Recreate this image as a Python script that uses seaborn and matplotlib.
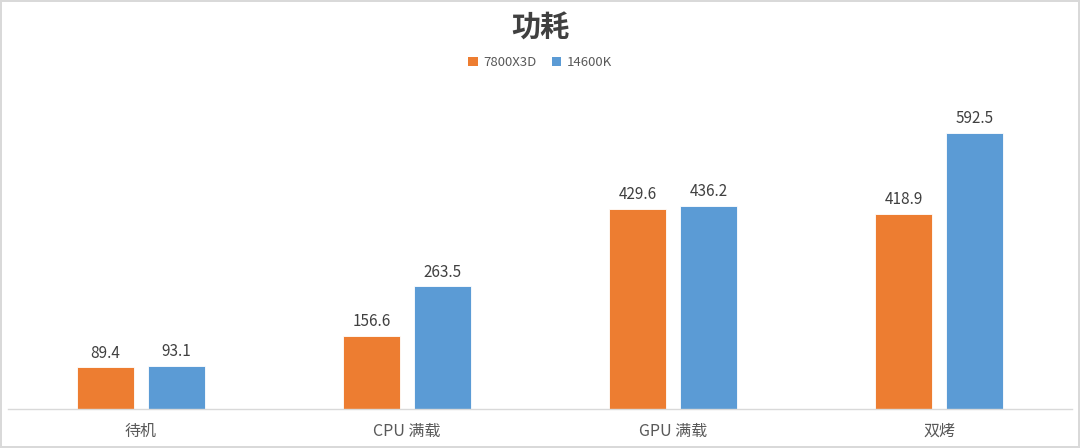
import matplotlib
matplotlib.use("Agg")
import matplotlib.pyplot as plt
import seaborn as sns
import pandas as pd

categories = ["待机", "CPU 满载", "GPU 满载", "双烤"]
series_names = ["7800X3D", "14600K"]
values_7800x3d = [89.4, 156.6, 429.6, 418.9]
values_14600k = [93.1, 263.5, 436.2, 592.5]
colors = ["#ED7D31", "#5B9BD5"]

df = pd.DataFrame({
    "cat": categories * 2,
    "series": [series_names[0]] * 4 + [series_names[1]] * 4,
    "value": values_7800x3d + values_14600k,
})

sns.set_theme(style="white")
plt.rcParams["font.family"] = ["Noto Sans CJK SC", "DejaVu Sans"]

W, H = 1080, 448
fig = plt.figure(figsize=(W / 100, H / 100), dpi=100)
fig.patch.set_facecolor("white")
fig.patch.set_edgecolor("#D9D9D9")
fig.patch.set_linewidth(1.5)

ax = fig.add_axes([8 / W, (H - 409) / H, 1064 / W, 309 / H])
sns.barplot(data=df, x="cat", y="value", hue="series", order=categories,
            hue_order=series_names, palette=colors, width=0.534, gap=0.21,
            saturation=1, ax=ax, legend=False, edgecolor="white", linewidth=0.6)

ax.set_xlim(-0.5, 3.5)
ax.set_ylim(0, 663)
for c in ax.containers:
    ax.bar_label(c, fmt="%.1f", padding=4, fontsize=11, color="#404040")

for s in ["top", "right", "left"]:
    ax.spines[s].set_visible(False)
ax.spines["bottom"].set_color("#D9D9D9")
ax.spines["bottom"].set_linewidth(1)
ax.set_yticks([])
ax.set_xlabel("")
ax.set_ylabel("")
ax.tick_params(axis="x", length=0, pad=10, labelsize=11.5, labelcolor="#595959")

fig.text(0.5, 1 - 28 / H, "功耗", ha="center", va="center", fontsize=21,
         fontweight="bold", color="#404040")

from matplotlib.patches import Patch
handles = [Patch(facecolor=colors[i], edgecolor="none", label=series_names[i]) for i in range(2)]
fig.legend(handles=handles, loc="center", bbox_to_anchor=(0.5, 1 - 63 / H), ncol=2,
           frameon=False, fontsize=9.5, handlelength=0.7, handleheight=0.7,
           handletextpad=0.4, columnspacing=1.2, labelcolor="#595959")

fig.savefig("out.png", dpi=100)
